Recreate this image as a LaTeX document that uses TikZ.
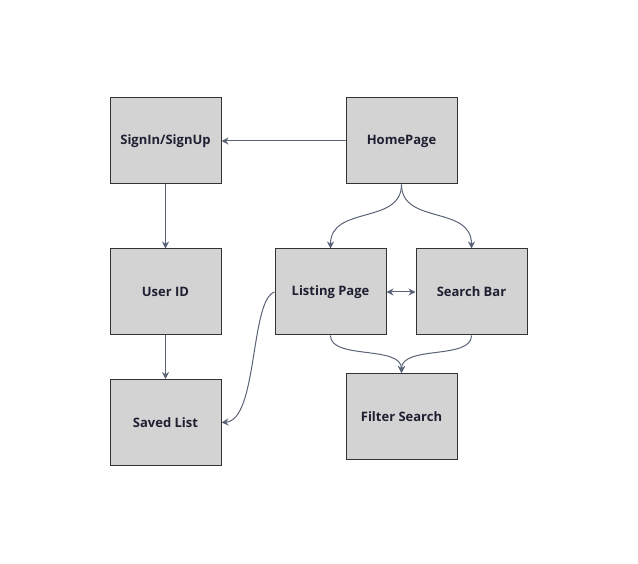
\documentclass[tikz,border=0pt]{standalone}
\usepackage{fontspec}
\setmainfont{Open Sans}
\usepackage{tikz}
\usetikzlibrary{arrows.meta, positioning}
\definecolor{boxfill}{RGB}{211,211,211}
\definecolor{boxline}{RGB}{51,51,51}
\definecolor{linkcolor}{RGB}{90,98,118}
\definecolor{textcolor}{RGB}{30,32,50}

\begin{document}
\begin{tikzpicture}[x=1pt, y=-1pt,
    pagebox/.style={draw=boxline, line width=1pt, fill=boxfill, minimum width=111pt, minimum height=86pt, inner sep=0pt, font=\fontsize{13}{15}\selectfont\bfseries, text=textcolor},
    link/.style={draw=linkcolor, line width=1pt, -{Stealth[length=7pt, width=7pt]}}]
    % Cadre
    \useasboundingbox (0,0) rectangle (638,564);

    % Colonne gauche
    \node[pagebox] (signin) at (165.5,141) {SignIn/SignUp};
    \node[pagebox] (userid) at (165.5,292) {User ID};
    \node[pagebox] (saved) at (165.5,422.5) {Saved List};

    % Colonne droite
    \node[pagebox] (home) at (401.5,141) {HomePage};
    \node[pagebox] (listing) at (330.5,292) {Listing Page};
    \node[pagebox] (search) at (471.5,292) {Search Bar};
    \node[pagebox] (filter) at (401.5,416.5) {Filter Search};

    % Flèches
    \draw[link] (home.west) -- (signin.east);
    \draw[link] (signin.south) -- (userid.north);
    \draw[link] (userid.south) -- (saved.north);
    \draw[link] (home.south) .. controls (401.5,225) and (330.5,205) .. (listing.north);
    \draw[link] (home.south) .. controls (401.5,225) and (471.5,205) .. (search.north);
    \draw[link, {Stealth[length=7pt, width=7pt]}-{Stealth[length=7pt, width=7pt]}] (listing.east) -- (search.west);
    \draw[link] (listing.south) .. controls (330.5,360) and (401.5,345) .. (filter.north);
    \draw[link] (search.south) .. controls (471.5,360) and (401.5,345) .. (filter.north);
    \draw[link] (listing.west) .. controls (250,300) and (258,420) .. (saved.east);
\end{tikzpicture}
\end{document}
